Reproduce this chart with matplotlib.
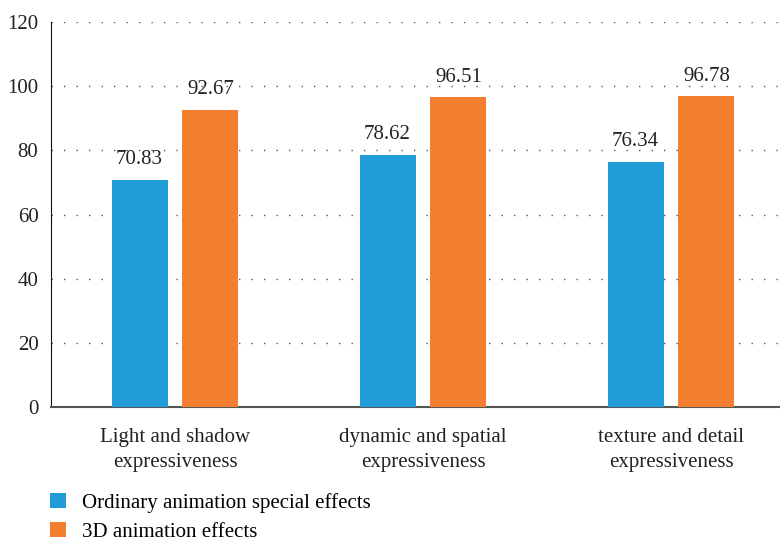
import matplotlib
matplotlib.use('Agg')
import matplotlib.pyplot as plt
import numpy as np

plt.rcParams['font.family'] = ['Liberation Serif', 'DejaVu Serif']

categories = ['Light and shadow\nexpressiveness', 'dynamic and spatial\nexpressiveness',
              'texture and detail\nexpressiveness']
ordinary = [70.83, 78.62, 76.34]
anim3d = [92.67, 96.51, 96.78]
series_names = ['Ordinary animation special effects', '3D animation effects']
colors = ['#209cd8', '#f37f2e']

fig = plt.figure(figsize=(7.8, 5.44), dpi=100)
ax = fig.add_axes([51/780, 137/544, 729/780, 385/544])

x = np.arange(len(categories))
w = 0.226
off = 0.143
b1 = ax.bar(x - off, ordinary, w, color=colors[0], label=series_names[0], zorder=3)
b2 = ax.bar(x + off, anim3d, w, color=colors[1], label=series_names[1], zorder=3)
for bars, vals in ((b1, ordinary), (b2, anim3d)):
    for b, v in zip(bars, vals):
        ax.text(b.get_x() + b.get_width()/2, v + 3.3, '%.2f' % v, ha='center', va='bottom',
                fontsize=15, color='#222222')

ax.set_ylim(0, 120)
ax.set_yticks(range(0, 121, 20))
ax.set_xlim(-0.5, 729/248 - 0.5)
ax.set_xticks(x)
ax.set_xticklabels(categories, fontsize=15, color='#222222', linespacing=1.45)
ax.tick_params(axis='y', labelsize=15, length=0, pad=9, labelcolor='#222222')
ax.tick_params(axis='x', length=0, pad=15)
ax.yaxis.grid(True, linestyle=(0, (1, 8)), color='#555555', linewidth=1)
for s in ('top', 'right'):
    ax.spines[s].set_visible(False)
ax.spines['left'].set_color('#111111')
ax.spines['bottom'].set_color('#555555')
ax.spines['bottom'].set_linewidth(1.5)

fig.legend(handles=[b1, b2], loc='upper left', bbox_to_anchor=(0.064, 0.094), frameon=False,
           fontsize=15, handlelength=0.75, handleheight=0.75, handletextpad=0.8, labelspacing=0.45,
           borderaxespad=0, borderpad=0)

fig.savefig('out.png', dpi=100)
